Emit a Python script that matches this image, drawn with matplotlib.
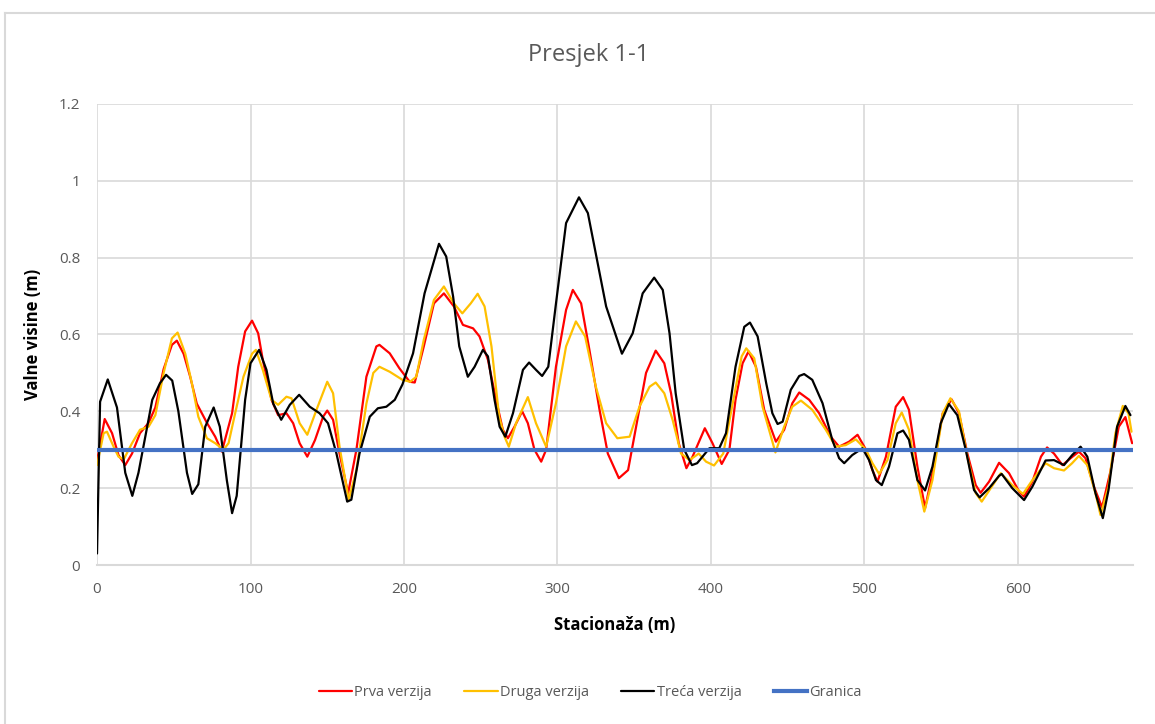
import matplotlib.pyplot as plt
from matplotlib.lines import Line2D

# -------------------------
# Data
# -------------------------
prva_x = [0, 5, 9.8, 14, 18.4, 22.8, 28, 33.6, 38, 43.4,
          48.8, 52, 56.4, 60.7, 65, 71.6, 77, 81.3, 88, 92,
          96.5, 101, 105, 108, 113.7, 118, 123.4, 127.8, 132, 137,
          142, 147.3, 150, 153.8, 158, 163.6, 169, 175.5, 182, 184,
          190.7, 197, 203.7, 207, 212.9, 219.5, 226, 232.5, 238.4, 245,
          249.2, 254.7, 260, 264.4, 267.7, 272, 277, 280.7, 285, 289.4,
          292.6, 299, 305.6, 310, 315.4, 320.8, 327.4, 332.8, 340, 346,
          351.2, 357.7, 364, 369.6, 374, 379, 384, 388, 396, 401,
          407, 412, 416, 420.6, 424.5, 429.3, 434.7, 442.3, 447.7, 453,
          457.5, 464, 470.5, 478, 483.5, 490, 495.5, 501, 505.2, 508.5,
          514, 520.4, 525.2, 529, 534.5, 539.5, 544.3, 551, 556.8, 561.6,
          567, 572.5, 575.7, 581.2, 587.7, 594.2, 600.8, 604, 609.4, 615,
          619, 623.5, 629, 634.3, 639.7, 644, 649.5, 654.8, 660, 665.7,
          670, 674.4]
prva_y = [0.27, 0.38, 0.343, 0.286, 0.26, 0.29, 0.343, 0.37, 0.41, 0.51,
          0.573, 0.584, 0.55, 0.49, 0.42, 0.37, 0.334, 0.295, 0.395, 0.516,
          0.608, 0.636, 0.603, 0.534, 0.43, 0.39, 0.395, 0.369, 0.317, 0.282,
          0.325, 0.386, 0.402, 0.378, 0.29, 0.187, 0.30, 0.49, 0.569, 0.573,
          0.551, 0.512, 0.477, 0.475, 0.569, 0.681, 0.707, 0.673, 0.625, 0.616,
          0.595, 0.534, 0.43, 0.352, 0.33, 0.36, 0.40, 0.369, 0.30, 0.269,
          0.30, 0.516, 0.664, 0.716, 0.681, 0.56, 0.404, 0.29, 0.226, 0.247,
          0.36, 0.50, 0.558, 0.525, 0.447, 0.317, 0.252, 0.282, 0.356, 0.317,
          0.263, 0.30, 0.43, 0.525, 0.556, 0.516, 0.404, 0.321, 0.352, 0.421,
          0.449, 0.43, 0.395, 0.334, 0.308, 0.321, 0.339, 0.30, 0.247, 0.217,
          0.282, 0.412, 0.437, 0.404, 0.256, 0.148, 0.239, 0.395, 0.431, 0.395,
          0.291, 0.208, 0.188, 0.217, 0.266, 0.239, 0.191, 0.178, 0.217, 0.282,
          0.306, 0.29, 0.26, 0.278, 0.295, 0.278, 0.204, 0.15, 0.239, 0.36,
          0.385, 0.317]

druga_x = [0, 4.3, 6.5, 10.8, 14, 17.4, 22.8, 28, 33.6, 38,
           43.4, 48.8, 52.5, 57.5, 61.8, 66, 71.6, 77, 82.4, 85.7,
           90, 95.4, 101, 103.5, 108, 113.7, 118, 123.4, 126.7, 132,
           137, 143, 150, 153.8, 158, 164, 169, 175.5, 180, 184,
           190.7, 199, 204, 208, 212.9, 219.5, 226, 232.5, 238, 243.5,
           248, 252.5, 257, 262, 265.5, 268.3, 273, 280.7, 286, 292.6,
           299, 305.6, 312, 318, 325, 331.7, 339, 347, 353.4, 360,
           364, 369.6, 375, 380.5, 386, 392, 396.8, 402, 408, 414.6,
           420, 423, 428.2, 433.6, 442, 447.7, 453, 458.6, 466, 474.8,
           481.3, 487.8, 494.4, 501, 505.2, 509.6, 515, 520.4, 524.3, 529,
           534.5, 539, 544.3, 551, 556, 561.6, 567, 572.5, 576.4, 582.3,
           588.8, 596.3, 603.3, 609.4, 618, 623.5, 630, 635.3, 639.7, 645.2,
           650.5, 653.8, 659, 663.5, 668.3, 672, 674]
druga_y = [0.26, 0.343, 0.347, 0.308, 0.282, 0.275, 0.317, 0.352, 0.36, 0.39,
           0.50, 0.59, 0.605, 0.55, 0.473, 0.386, 0.33, 0.317, 0.30, 0.317,
           0.395, 0.49, 0.55, 0.56, 0.508, 0.43, 0.417, 0.438, 0.434, 0.369,
           0.339, 0.404, 0.477, 0.447, 0.308, 0.17, 0.247, 0.42, 0.50, 0.516,
           0.503, 0.482, 0.477, 0.49, 0.586, 0.69, 0.725, 0.681, 0.655, 0.681,
           0.706, 0.673, 0.569, 0.386, 0.334, 0.308, 0.369, 0.437, 0.369, 0.308,
           0.421, 0.569, 0.634, 0.595, 0.464, 0.369, 0.33, 0.334, 0.412, 0.464,
           0.475, 0.447, 0.378, 0.29, 0.273, 0.29, 0.269, 0.259, 0.29, 0.43,
           0.543, 0.564, 0.538, 0.412, 0.293, 0.36, 0.412, 0.428, 0.404, 0.352,
           0.308, 0.312, 0.327, 0.30, 0.265, 0.237, 0.273, 0.369, 0.397, 0.352,
           0.221, 0.139, 0.221, 0.395, 0.434, 0.40, 0.282, 0.187, 0.165, 0.20,
           0.239, 0.208, 0.185, 0.221, 0.265, 0.252, 0.246, 0.265, 0.284, 0.26,
           0.187, 0.13, 0.204, 0.343, 0.414, 0.395, 0.347]

treca_x = [0, 2, 7, 13, 18.4, 23, 27, 36, 41, 45,
           49, 53, 58.6, 62, 66, 70.5, 76, 80, 84.6, 88,
           91, 96.5, 100, 105.6, 110.4, 114.8, 120, 125.6, 131.7, 138.6,
           145, 150.5, 156, 163, 165.7, 171, 177.7, 183, 188.5, 194,
           199, 205.9, 213.4, 222.8, 227.5, 232, 236, 241.6, 246, 251.4,
           254.7, 259, 262.3, 266, 271, 277.5, 281.5, 286, 290, 294,
           299, 305.6, 314, 319.8, 325, 331.7, 342, 349, 355.5, 363,
           368.6, 373, 377, 382.6, 387.6, 391, 399, 405.4, 409.8, 416,
           421.7, 425.4, 430.4, 436, 440, 443.4, 446.7, 452, 457.5, 460.7,
           466, 472.7, 479, 483.5, 486.8, 492, 498.7, 503, 507.5, 511.3,
           516, 521.5, 525.2, 529, 534.5, 539.5, 544.3, 549.7, 555, 560.5,
           566, 571.4, 575, 581.2, 587.7, 589.4, 596.3, 604, 609.4, 618,
           623.5, 630, 635.3, 640.8, 645.2, 650.5, 655.3, 659, 664.6, 670,
           673.3]
treca_y = [0.03, 0.425, 0.483, 0.41, 0.24, 0.18, 0.24, 0.43, 0.473, 0.495,
           0.48, 0.40, 0.24, 0.185, 0.21, 0.36, 0.41, 0.36, 0.22, 0.135,
           0.18, 0.43, 0.525, 0.56, 0.508, 0.42, 0.378, 0.417, 0.443, 0.412,
           0.395, 0.369, 0.29, 0.165, 0.17, 0.29, 0.386, 0.408, 0.412, 0.43,
           0.47, 0.551, 0.707, 0.836, 0.803, 0.699, 0.569, 0.49, 0.516, 0.56,
           0.543, 0.43, 0.36, 0.334, 0.395, 0.508, 0.527, 0.508, 0.492, 0.516,
           0.68, 0.89, 0.957, 0.916, 0.81, 0.673, 0.55, 0.603, 0.707, 0.748,
           0.716, 0.603, 0.447, 0.30, 0.26, 0.265, 0.304, 0.304, 0.343, 0.516,
           0.62, 0.631, 0.595, 0.473, 0.395, 0.367, 0.373, 0.456, 0.492, 0.497,
           0.482, 0.421, 0.326, 0.278, 0.265, 0.286, 0.304, 0.273, 0.221, 0.208,
           0.256, 0.343, 0.35, 0.326, 0.221, 0.194, 0.256, 0.369, 0.419, 0.39,
           0.30, 0.195, 0.176, 0.20, 0.232, 0.237, 0.20, 0.169, 0.204, 0.272,
           0.273, 0.26, 0.286, 0.308, 0.282, 0.187, 0.122, 0.195, 0.36, 0.414,
           0.39]

granica_x = [0, 675]
granica_y = [0.3, 0.3]

x_ticks = [0, 100, 200, 300, 400, 500, 600]
y_ticks = [0, 0.2, 0.4, 0.6, 0.8, 1.0, 1.2]
y_tick_labels = ["0", "0.2", "0.4", "0.6", "0.8", "1", "1.2"]

# -------------------------
# Plot
# -------------------------
plt.rcParams["font.family"] = ["Open Sans", "DejaVu Sans"]
text_grey = "#595959"
grid_grey = "#D9D9D9"

fig = plt.figure(figsize=(11.55, 7.24), dpi=100)
ax = fig.add_axes([0.084, 0.2196, 0.897, 0.6368])

line_kw = dict(lw=1.6, solid_joinstyle="round", solid_capstyle="round")
ax.plot(prva_x, prva_y, color="#FF0000", label="Prva verzija", zorder=3, **line_kw)
ax.plot(druga_x, druga_y, color="#FFC000", label="Druga verzija", zorder=3, **line_kw)
ax.plot(treca_x, treca_y, color="#000000", label="Treća verzija", zorder=4, **line_kw)
ax.plot(granica_x, granica_y, color="#4472C4", lw=3, label="Granica", zorder=5)

ax.set_xlim(0, 675)
ax.set_ylim(0, 1.2)
ax.set_xticks(x_ticks)
ax.set_yticks(y_ticks)
ax.set_yticklabels(y_tick_labels)
ax.tick_params(length=0, labelsize=11, labelcolor=text_grey)
ax.tick_params(axis="x", pad=12)
ax.tick_params(axis="y", pad=12)
ax.grid(True, color=grid_grey, lw=1.2)
ax.set_axisbelow(True)
for side in ["top", "right", "left"]:
    ax.spines[side].set_visible(False)
ax.spines["bottom"].set_color(grid_grey)
ax.spines["bottom"].set_linewidth(1.5)

ax.set_xlabel("Stacionaža (m)", fontsize=12, fontweight="bold", labelpad=14)
ax.set_ylabel("Valne visine (m)", fontsize=12, fontweight="bold", labelpad=12)
fig.text(0.51, 0.924, "Presjek 1-1", ha="center", va="center",
         fontsize=17, color=text_grey)

fig.legend(loc="center", bbox_to_anchor=(0.511, 0.044), ncol=4, frameon=False,
           fontsize=10.5, labelcolor=text_grey, handlelength=2.3,
           handletextpad=0.15, columnspacing=2.2)

# chart frame
fig.add_artist(Line2D([0.004, 1.0], [0.982, 0.982], color=grid_grey, lw=1.5))
fig.add_artist(Line2D([0.004, 0.004], [0.0, 0.982], color=grid_grey, lw=1.5))

fig.savefig("out.png", dpi=100)
